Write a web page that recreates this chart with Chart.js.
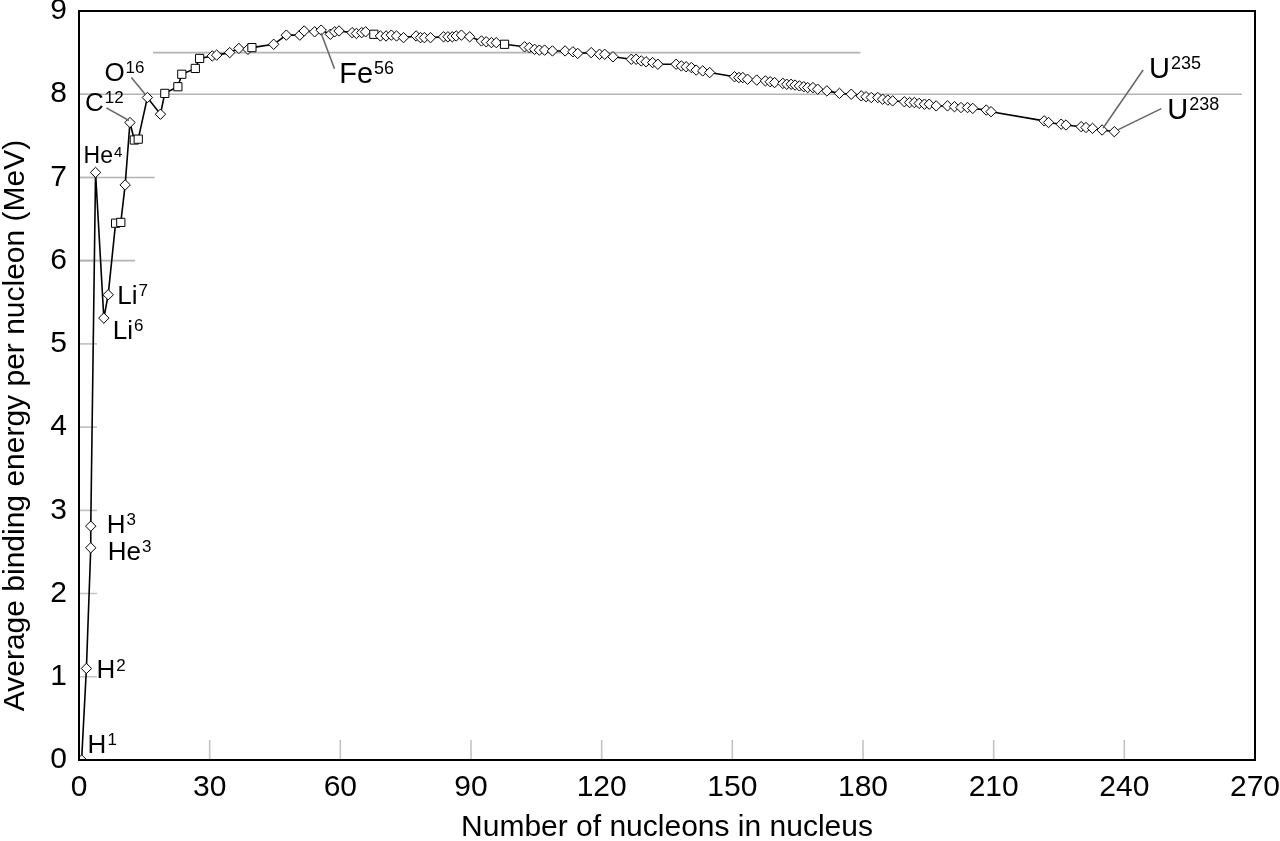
<!DOCTYPE html>
<html>
<head>
<meta charset="utf-8">
<script src="https://cdn.jsdelivr.net/npm/chart.js@4.4.1/dist/chart.umd.min.js"></script>
<style>
  html, body { margin: 0; padding: 0; background: #fff; }
  #wrap { width: 1280px; height: 841px; }
</style>
</head>
<body>
<div id="wrap"><canvas id="bindingChart"></canvas></div>
<script>
// mass number
let nucleons = [0.6, 1.7, 2.7, 2.7, 3.8, 5.7, 6.7, 8.4, 9.6, 10.6,
    11.7, 12.7, 13.6, 15.7, 18.7, 19.7, 22.7, 23.6, 26.7, 27.7,
    30.6, 31.6, 34.6, 36.7, 38.8, 39.7, 44.7, 47.6, 50.7, 51.7,
    54.1, 55.6, 57.7, 58.7, 59.7, 62.7, 63.7, 64.9, 65.8, 67.7,
    69.2, 70.5, 71.7, 72.9, 74.5, 77.4, 78.4, 79.3, 80.7, 83.7,
    84.7, 85.7, 86.6, 87.8, 89.7, 92.4, 93.5, 94.7, 95.8, 97.7,
    102.3, 103.4, 104.6, 105.7, 106.9, 108.7, 111.6, 113.4, 114.5, 117.6,
    119.5, 120.7, 122.6, 126.8, 127.9, 129.1, 130.2, 131.7, 132.9, 137.1,
    138.3, 139.4, 140.6, 141.7, 143.2, 144.8, 150.5, 151.5, 152.4, 153.5,
    155.6, 157.6, 158.7, 159.7, 161.6, 162.5, 163.5, 164.4, 165.4, 166.4,
    167.3, 168.5, 169.6, 171.7, 174.6, 177.3, 179.6, 180.7, 181.9, 183.4,
    184.5, 185.7, 186.8, 189.5, 190.7, 191.8, 192.9, 194.1, 195.2, 196.8,
    199.4, 201.0, 202.5, 204.0, 205.2, 208.3, 209.4, 221.6, 222.6, 225.5,
    226.6, 230.1, 231.2, 232.7, 234.9, 237.7];

// average binding energy per nucleon (MeV)
let energy = [0, 1.10, 2.55, 2.81, 7.06, 5.31, 5.59, 6.45, 6.46, 6.91,
    7.66, 7.45, 7.46, 7.96, 7.76, 8.01, 8.09, 8.24, 8.31, 8.43,
    8.46, 8.47, 8.50, 8.55, 8.54, 8.56, 8.60, 8.71, 8.71, 8.76,
    8.75, 8.77, 8.72, 8.75, 8.76, 8.74, 8.73, 8.74, 8.75, 8.72,
    8.70, 8.70, 8.71, 8.70, 8.68, 8.70, 8.68, 8.68, 8.68, 8.69,
    8.69, 8.69, 8.70, 8.71, 8.69, 8.64, 8.63, 8.62, 8.62, 8.60,
    8.57, 8.56, 8.54, 8.53, 8.53, 8.52, 8.52, 8.51, 8.49, 8.50,
    8.48, 8.48, 8.45, 8.42, 8.42, 8.40, 8.39, 8.38, 8.36, 8.36,
    8.34, 8.33, 8.32, 8.29, 8.28, 8.26, 8.21, 8.20, 8.20, 8.18,
    8.17, 8.16, 8.15, 8.14, 8.13, 8.12, 8.12, 8.11, 8.10, 8.09,
    8.08, 8.08, 8.06, 8.04, 8.01, 8.00, 7.98, 7.97, 7.96, 7.96,
    7.94, 7.93, 7.92, 7.91, 7.90, 7.90, 7.89, 7.88, 7.88, 7.86,
    7.86, 7.85, 7.84, 7.84, 7.83, 7.81, 7.79, 7.68, 7.66, 7.64,
    7.63, 7.61, 7.60, 7.59, 7.57, 7.55];

// points drawn as squares instead of diamonds
let squareAt = [8.4, 9.6, 12.7, 13.6, 19.7, 22.7, 23.6, 26.7, 27.7, 39.7, 67.7, 97.7];

// labelled isotopes: element, mass number, index of the point
let isoNames = ['H', 'H', 'He', 'H', 'He', 'Li', 'Li', 'C', 'O', 'Fe', 'U', 'U'];
let isoMass = ['1', '2', '3', '3', '4', '6', '7', '12', '16', '56', '235', '238'];
let isoPoint = [0, 1, 2, 3, 4, 5, 6, 10, 13, 31, 134, 135];

// light grey reference lines [y, xFrom, xTo]
let refLines = [[8, 0, 267], [8.5, 17, 179.4], [7, 0, 17.4], [6, 0, 12.9]];

let xTicks = [0, 30, 60, 90, 120, 150, 180, 210, 240, 270];
let yTicks = [0, 1, 2, 3, 4, 5, 6, 7, 8, 9];

const FONT = "'Liberation Sans', Arial, sans-serif";
const yTitle = 'Average binding energy per nucleon (MeV)';

// label placement (offsets in px from the point) and leaders
let labelStyle = [
    { dx: 6, dy: -7, size: 26, sup: 17 },
    { dx: 10, dy: 10, size: 26, sup: 17 },
    { dx: 17, dy: 12, size: 26, sup: 17 },
    { dx: 16, dy: 7, size: 26, sup: 17 },
    { dx: -12, dy: -9, size: 23, sup: 15 },
    { dx: 9, dy: 21, size: 26, sup: 17 },
    { dx: 9, dy: 9, size: 26, sup: 17 },
    { dx: -45, dy: -12, size: 26, sup: 17, lead: [-23.6, -14.7, -1, -2] },
    { dx: -43, dy: -17, size: 26, sup: 17, lead: [-16, -20, -2, -3] },
    { dx: 18, dy: 53, size: 29, sup: 18, lead: [13.3, 38.7, 0, 3] },
    { dx: 47, dy: -52, size: 29, sup: 18, lead: [41, -60, 1, -2] },
    { dx: 53, dy: -13, size: 29, sup: 18, lead: [47, -23, 4, -2] }
];

let points = nucleons.map((a, i) => ({ x: a, y: energy[i] }));

let datasets = [{
    label: 'Binding energy',
    data: points,
    showLine: true,
    borderColor: '#000',
    borderWidth: 1.6,
    pointStyle: points.map(p => squareAt.includes(p.x) ? 'rect' : 'rectRot'),
    pointRadius: points.map(p => squareAt.includes(p.x) ? 5.8 : 5.2),
    pointBackgroundColor: '#fff',
    pointBorderColor: '#000',
    pointBorderWidth: 1,
    order: 0
}];

refLines.forEach(r => {
    datasets.push({
        data: [{ x: r[1], y: r[0] }, { x: r[2], y: r[0] }],
        showLine: true,
        borderColor: '#b4b4b4',
        borderWidth: 1.6,
        pointRadius: 0,
        order: 5
    });
});

// frame + short inward ticks
const framePlugin = {
    id: 'frame',
    beforeDatasetsDraw(chart) {
        let ctx = chart.ctx;
        let a = chart.chartArea;
        let xs = chart.scales.x, ys = chart.scales.y;
        ctx.save();
        ctx.strokeStyle = '#c4c4c4';
        ctx.lineWidth = 1.6;
        ctx.beginPath();
        xTicks.slice(1, -1).forEach(t => {
            let px = xs.getPixelForValue(t);
            ctx.moveTo(px, a.bottom);
            ctx.lineTo(px, a.bottom - 20);
        });
        yTicks.slice(1, -1).forEach(t => {
            let py = ys.getPixelForValue(t);
            ctx.moveTo(a.left, py);
            ctx.lineTo(a.left + 18, py);
        });
        ctx.stroke();
        ctx.restore();
    },
    afterDatasetsDraw(chart) {
        let ctx = chart.ctx;
        let a = chart.chartArea;
        ctx.save();
        ctx.strokeStyle = '#000';
        ctx.lineWidth = 2;
        ctx.strokeRect(a.left, a.top, a.right - a.left, a.bottom - a.top);
        // y axis title, sits a little below the middle of the plot
        ctx.translate(16, a.top + (a.bottom - a.top) / 2 + 40);
        ctx.rotate(-Math.PI / 2);
        ctx.fillStyle = '#000';
        ctx.font = '30px ' + FONT;
        ctx.textAlign = 'center';
        ctx.textBaseline = 'middle';
        ctx.fillText(yTitle, 0, 0);
        ctx.restore();
    }
};

// isotope labels with superscript mass numbers
const labelPlugin = {
    id: 'isoLabels',
    afterDraw(chart) {
        let ctx = chart.ctx;
        let xs = chart.scales.x, ys = chart.scales.y;
        ctx.save();
        isoPoint.forEach((idx, k) => {
            let st = labelStyle[k];
            let px = xs.getPixelForValue(nucleons[idx]);
            let py = ys.getPixelForValue(energy[idx]);
            if (st.lead) {
                ctx.strokeStyle = '#666';
                ctx.lineWidth = 1.5;
                ctx.beginPath();
                ctx.moveTo(px + st.lead[0], py + st.lead[1]);
                ctx.lineTo(px + st.lead[2], py + st.lead[3]);
                ctx.stroke();
            }
            ctx.fillStyle = '#000';
            ctx.textAlign = 'left';
            ctx.textBaseline = 'alphabetic';
            ctx.font = st.size + 'px ' + FONT;
            let tx = px + st.dx, ty = py + st.dy;
            ctx.fillText(isoNames[k], tx, ty);
            let w = ctx.measureText(isoNames[k]).width;
            ctx.font = st.sup + 'px ' + FONT;
            ctx.fillText(isoMass[k], tx + w + 1, ty - st.size * 0.3);
        });
        ctx.restore();
    }
};

let ctx = document.getElementById('bindingChart').getContext('2d');
let bindingChart = new Chart(ctx, {
    type: 'scatter',
    data: { datasets: datasets },
    options: {
        responsive: true,
        maintainAspectRatio: false,
        animation: false,
        layout: { padding: { top: 11, right: 25, left: 0, bottom: 0 } },
        plugins: { legend: { display: false }, tooltip: { enabled: false } },
        scales: {
            x: {
                type: 'linear',
                min: 0, max: 270,
                afterBuildTicks: s => { s.ticks = xTicks.map(v => ({ value: v })); },
                afterFit: s => {
                    s.height = 81;
                    s.paddingLeft = 0; s.paddingRight = 0;
                },
                grid: { display: false, drawTicks: false },
                border: { display: false },
                ticks: { color: '#000', font: { family: FONT, size: 30 }, padding: 10, maxRotation: 0 },
                title: {
                    display: true,
                    text: 'Number of nucleons in nucleus',
                    color: '#000',
                    font: { family: FONT, size: 30 },
                    padding: { top: 0, bottom: -5 }
                }
            },
            y: {
                type: 'linear',
                min: 0, max: 9,
                afterBuildTicks: s => { s.ticks = yTicks.map(v => ({ value: v })); },
                afterFit: s => {
                    s.width = 79;
                    s.paddingTop = 0; s.paddingBottom = 0;
                },
                grid: { display: false, drawTicks: false },
                border: { display: false },
                ticks: { color: '#000', font: { family: FONT, size: 30 }, padding: 12 }
            }
        }
    },
    plugins: [framePlugin, labelPlugin]
});
</script>
</body>
</html>
